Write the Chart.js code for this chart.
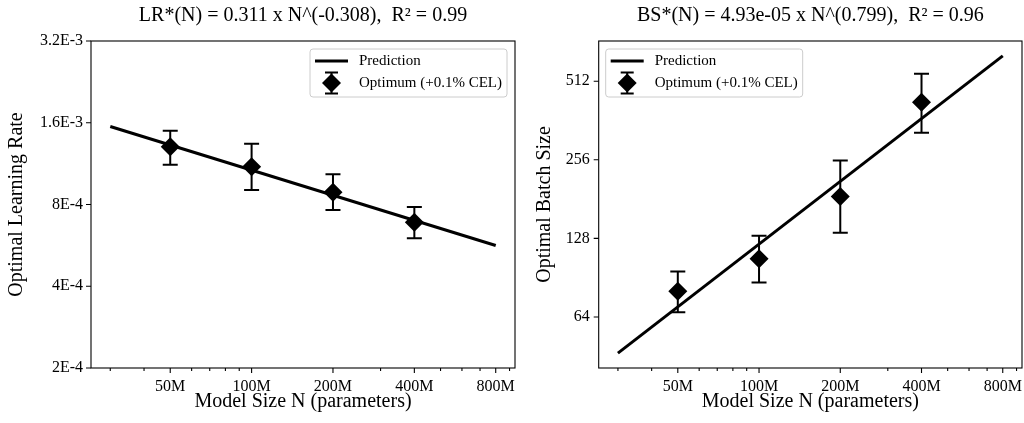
<!DOCTYPE html>
<html>
<head>
<meta charset="utf-8">
<script src="https://cdn.jsdelivr.net/npm/chart.js@4.4.1/dist/chart.umd.min.js"></script>
<style>
html, body { margin: 0; padding: 0; background: #fff; }
#wrap { position: relative; width: 1024px; height: 423px; overflow: hidden; }
canvas { position: absolute; top: 0; }
#left { left: 0; }
#right { left: 520px; }
</style>
</head>
<body>
<div id="wrap">
	<canvas id="left" width="520" height="423"></canvas>
	<canvas id="right" width="504" height="423"></canvas>
</div>
<script>
// model sizes of the measured optima, and end points of the fitted line
var modelSizes = [50e6, 100e6, 200e6, 400e6];
var fitSizes = [30e6, 800e6];

// learning rate panel
var lrOptimum = [1.306e-3, 1.102e-3, 8.87e-4, 6.88e-4];
var lrHigh = [1.496e-3, 1.340e-3, 1.033e-3, 7.83e-4];
var lrLow = [1.121e-3, 9.05e-4, 7.64e-4, 6.01e-4];
var lrPrediction = [1.55e-3, 5.65e-4];
var lrTicks = [2e-4, 4e-4, 8e-4, 1.6e-3, 3.2e-3];
var lrTickLabels = ['2E-4', '4E-4', '8E-4', '1.6E-3', '3.2E-3'];

// batch size panel
var bsOptimum = [80.3, 106.9, 185, 425];
var bsHigh = [95.6, 131, 254.5, 547];
var bsLow = [66.7, 86.7, 134.5, 325];
var bsPrediction = [46.5, 640];
var bsTicks = [64, 128, 256, 512];
var bsTickLabels = ['64', '128', '256', '512'];

// shared x axis
var xTicks = [50e6, 100e6, 200e6, 400e6, 800e6];
var xTickLabels = ['50M', '100M', '200M', '400M', '800M'];
var xMinorTicks = [30e6, 40e6, 60e6, 70e6, 80e6, 90e6, 300e6, 500e6, 600e6, 700e6, 900e6];

var FONT = 'Liberation Serif';

// frame, tick marks, error bars and the boxed legend
var panelDeco = {
	id: 'panelDeco',
	afterDatasetsDraw(chart, args, opts) {
		let ctx = chart.ctx, x = chart.scales.x, y = chart.scales.y;
		ctx.save();
		ctx.strokeStyle = '#000';
		ctx.lineWidth = 2;
		opts.xs.forEach((n, i) => {
			let px = x.getPixelForValue(n);
			let top = y.getPixelForValue(opts.high[i]);
			let bot = y.getPixelForValue(opts.low[i]);
			ctx.beginPath();
			ctx.moveTo(px, top); ctx.lineTo(px, bot);
			ctx.moveTo(px - 7.5, top); ctx.lineTo(px + 7.5, top);
			ctx.moveTo(px - 7.5, bot); ctx.lineTo(px + 7.5, bot);
			ctx.stroke();
		});
		ctx.restore();
	},
	afterDraw(chart, args, opts) {
		let ctx = chart.ctx, a = chart.chartArea, x = chart.scales.x, y = chart.scales.y;
		ctx.save();
		ctx.strokeStyle = '#000';
		ctx.lineWidth = 1.1;
		ctx.strokeRect(a.left, a.top, a.right - a.left, a.bottom - a.top);

		ctx.beginPath();
		xTicks.forEach(v => {
			let px = x.getPixelForValue(v);
			ctx.moveTo(px, a.bottom); ctx.lineTo(px, a.bottom + 5);
		});
		xMinorTicks.forEach(v => {
			let px = x.getPixelForValue(v);
			ctx.moveTo(px, a.bottom); ctx.lineTo(px, a.bottom + 3);
		});
		opts.yTicks.forEach(v => {
			let py = y.getPixelForValue(v);
			ctx.moveTo(a.left - 5, py); ctx.lineTo(a.left, py);
		});
		ctx.stroke();

		// legend
		let bw = 197, bh = 48;
		let bx = opts.legendAlign === 'right' ? a.right - 8 - bw : a.left + 7;
		let by = a.top + 8;
		ctx.beginPath();
		ctx.roundRect(bx, by, bw, bh, 3);
		ctx.fillStyle = 'rgba(255,255,255,0.8)';
		ctx.fill();
		ctx.strokeStyle = '#cccccc';
		ctx.lineWidth = 1;
		ctx.stroke();

		ctx.strokeStyle = '#000';
		ctx.lineWidth = 3;
		ctx.beginPath();
		ctx.moveTo(bx + 5, by + 12); ctx.lineTo(bx + 38, by + 12);
		ctx.stroke();

		let mx = bx + 21.5, my = by + 34;
		ctx.lineWidth = 2;
		ctx.beginPath();
		ctx.moveTo(mx, my - 10.5); ctx.lineTo(mx, my + 10.5);
		ctx.moveTo(mx - 6.5, my - 10.5); ctx.lineTo(mx + 6.5, my - 10.5);
		ctx.moveTo(mx - 6.5, my + 10.5); ctx.lineTo(mx + 6.5, my + 10.5);
		ctx.stroke();
		ctx.fillStyle = '#000';
		ctx.beginPath();
		ctx.moveTo(mx - 9.5, my); ctx.lineTo(mx, my - 9.5); ctx.lineTo(mx + 9.5, my); ctx.lineTo(mx, my + 9.5);
		ctx.closePath();
		ctx.fill();

		ctx.font = '15px "' + FONT + '"';
		ctx.textBaseline = 'middle';
		ctx.textAlign = 'left';
		ctx.fillText(chart.data.datasets[0].label, bx + 49, by + 12);
		ctx.fillText(chart.data.datasets[1].label, bx + 49, by + 34);
		ctx.restore();
	}
};

function makePanel(id, cfg) {
	return new Chart(document.getElementById(id), {
		type: 'scatter',
		data: {
			datasets: [{
				label: 'Prediction',
				data: fitSizes.map((n, i) => ({x: n, y: cfg.prediction[i]})),
				showLine: true,
				borderColor: '#000',
				borderWidth: 3,
				pointRadius: 0,
				order: 2
			},
			{
				label: 'Optimum (+0.1% CEL)',
				data: modelSizes.map((n, i) => ({x: n, y: cfg.optimum[i]})),
				pointStyle: 'rectRot',
				pointRadius: 9.5,
				backgroundColor: '#000',
				borderColor: '#000',
				borderWidth: 0,
				order: 1
			}]
		},
		options: {
			responsive: false,
			animation: false,
			events: [],
			layout: { autoPadding: false, padding: { left: 0, right: cfg.padRight, top: 0, bottom: 0 } },
			plugins: {
				legend: { display: false },
				tooltip: { enabled: false },
				title: {
					display: true,
					text: cfg.title,
					fullSize: false,
					color: '#000',
					font: { family: FONT, size: 20, weight: 'normal' },
					padding: { top: 4, bottom: 13 }
				},
				panelDeco: { xs: modelSizes, low: cfg.low, high: cfg.high, yTicks: cfg.yTicks, legendAlign: cfg.legendAlign }
			},
			scales: {
				x: {
					type: 'logarithmic',
					min: 25.46e6,
					max: 942.8e6,
					grid: { display: false, drawTicks: false },
					border: { display: false },
					afterBuildTicks: s => {
						s.ticks = xTicks.concat(xMinorTicks).sort((p, q) => p - q).map(v => ({value: v}));
					},
					afterFit: s => { s.height = 55; s.paddingLeft = 0; s.paddingRight = 0; },
					ticks: {
						autoSkip: false,
						maxRotation: 0,
						padding: 9,
						color: '#000',
						font: { family: FONT, size: 16 },
						callback: v => { let i = xTicks.indexOf(v); return i < 0 ? '' : xTickLabels[i]; }
					},
					title: {
						display: true,
						text: 'Model Size N (parameters)',
						color: '#000',
						font: { family: FONT, size: 20 },
						padding: { top: 0, bottom: 9 }
					}
				},
				y: {
					type: 'logarithmic',
					min: cfg.yMin,
					max: cfg.yMax,
					grid: { display: false, drawTicks: false },
					border: { display: false },
					afterBuildTicks: s => { s.ticks = cfg.yTicks.map(v => ({value: v})); },
					afterFit: s => { s.width = cfg.yWidth; s.paddingTop = 0; s.paddingBottom = 0; },
					ticks: {
						autoSkip: false,
						padding: cfg.yPad,
						color: '#000',
						font: { family: FONT, size: 16 },
						callback: v => { let i = cfg.yTicks.indexOf(v); return i < 0 ? '' : cfg.yLabels[i]; }
					},
					title: {
						display: true,
						text: cfg.yTitle,
						color: '#000',
						font: { family: FONT, size: 20 },
						padding: { top: cfg.yTitlePad, bottom: 0 }
					}
				}
			}
		},
		plugins: [panelDeco]
	});
}

makePanel('left', {
	title: 'LR*(N) = 0.311 x N^(-0.308),  R\u00b2 = 0.99',
	yTitle: 'Optimal Learning Rate',
	optimum: lrOptimum, high: lrHigh, low: lrLow, prediction: lrPrediction,
	yTicks: lrTicks, yLabels: lrTickLabels,
	yMin: 2e-4, yMax: 3.2e-3,
	yWidth: 91, yPad: 8, yTitlePad: 5, padRight: 5,
	legendAlign: 'right'
});

makePanel('right', {
	title: 'BS*(N) = 4.93e-05 x N^(0.799),  R\u00b2 = 0.96',
	yTitle: 'Optimal Batch Size',
	optimum: bsOptimum, high: bsHigh, low: bsLow, prediction: bsPrediction,
	yTicks: bsTicks, yLabels: bsTickLabels,
	yMin: 40.8, yMax: 730,
	yWidth: 78.7, yPad: 9, yTitlePad: 13, padRight: 2,
	legendAlign: 'left'
});
</script>
</body>
</html>
